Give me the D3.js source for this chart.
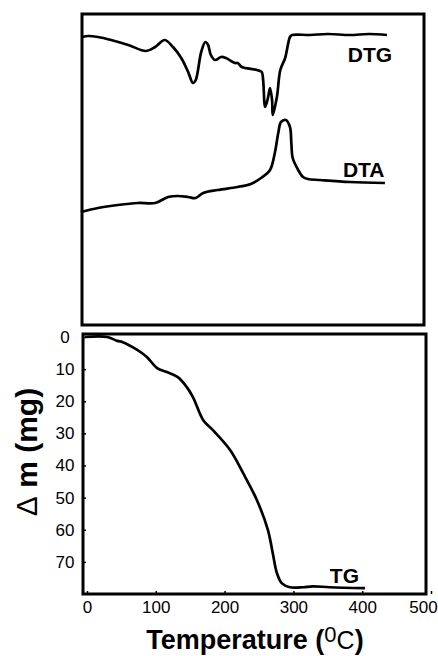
<!DOCTYPE html>
<html>
<head>
<meta charset="utf-8">
<script src="https://cdn.jsdelivr.net/npm/d3@7.9.0/dist/d3.min.js"></script>
<style>
  body { margin: 0; background: #fff; }
  svg { display: block; font-family: "Liberation Sans", Arial, sans-serif; }
</style>
</head>
<body>
<svg id="chart" width="438" height="656"></svg>
<script>
// temperature (°C) and signal
const dtgTemp = [-7, 2, 16, 35, 60, 86, 99, 113, 125, 137, 147, 154, 158, 166, 172, 176, 180, 186, 195, 202, 215, 219, 225, 247, 254, 256, 259, 263, 266, 269, 270, 276, 281, 288, 295, 298, 324, 350, 382, 410, 436];
const dtgValue = [288, 289, 288, 285, 280, 274, 278, 285, 278, 267, 253, 242, 245, 273, 283, 280, 270, 265, 268, 267, 262, 262, 258, 255, 253, 245, 218, 227, 237, 225, 210, 228, 255, 267, 288, 290, 290, 291, 290, 291, 290];

const dtaTemp = [-9, 16, 45, 74, 99, 118, 132, 147, 158, 169, 190, 219, 238, 253, 266, 273, 278, 282, 289, 295, 297, 299, 307, 314, 321, 339, 382, 433];
const dtaValue = [113, 117, 120, 122, 122, 128, 129, 128, 127, 132, 135, 138, 141, 147, 155, 172, 192, 203, 205, 198, 182, 167, 155, 148, 146, 145, 143, 142];

const tgTemp = [-3, 29, 44, 52, 73, 87, 102, 116, 132, 145, 154, 169, 183, 208, 227, 247, 263, 270, 276, 283, 295, 314, 328, 353, 404];
const tgLoss = [0, 0, 1.2, 1.6, 4.0, 6.2, 9.7, 10.9, 12.5, 15.6, 18.7, 25.9, 29.0, 35.2, 42.4, 50.8, 60.1, 67.3, 73.5, 76.6, 77.9, 77.9, 77.6, 77.9, 78.2];

const xTicks = [0, 100, 200, 300, 400, 500];
const yTicks = [0, 10, 20, 30, 40, 50, 60, 70];

const svg = d3.select('#chart');

const x = d3.scaleLinear().domain([0, 500]).range([87, 431]);
const yTop = d3.scaleLinear().domain([0, 300]).range([325, 25]);
const yTg = d3.scaleLinear().domain([0, 80]).range([337, 594]);

// panel frames
svg.append('rect')
  .attr('x', 82).attr('y', 14).attr('width', 342).attr('height', 311)
  .attr('fill', 'none').attr('stroke', '#000').attr('stroke-width', 3);
svg.append('rect')
  .attr('x', 83).attr('y', 334).attr('width', 343).attr('height', 260)
  .attr('fill', 'none').attr('stroke', '#000').attr('stroke-width', 3);

function drawCurve(temps, vals, yScale) {
  const pts = temps.map((t, i) => [t, vals[i]]);
  svg.append('path')
    .datum(pts)
    .attr('fill', 'none')
    .attr('stroke', '#000')
    .attr('stroke-width', 2.7)
    .attr('stroke-linejoin', 'round')
    .attr('d', d3.line()
      .x(d => x(d[0]))
      .y(d => yScale(d[1]))
      .curve(d3.curveCatmullRom.alpha(0.5)));
}

drawCurve(dtgTemp, dtgValue, yTop);
drawCurve(dtaTemp, dtaValue, yTop);
drawCurve(tgTemp, tgLoss, yTg);

// curve labels
const labels = [
  { text: 'DTG', t: 379, y: yTop(263) },
  { text: 'DTA', t: 372, y: yTop(148) },
  { text: 'TG', t: 353, y: yTg(76.6) }
];
svg.selectAll('text.curve-label')
  .data(labels)
  .join('text')
  .attr('class', 'curve-label')
  .attr('x', d => x(d.t))
  .attr('y', d => d.y)
  .attr('font-size', 21)
  .attr('font-weight', 'bold')
  .text(d => d.text);

// x axis
const xAxis = svg.append('g')
  .attr('transform', 'translate(0,594)')
  .call(d3.axisBottom(x).tickValues(xTicks).tickSize(-3).tickPadding(7));
xAxis.select('.domain').remove();
xAxis.selectAll('line').attr('stroke', '#000').attr('stroke-width', 1.5);
xAxis.selectAll('text')
  .attr('font-size', 17)
  .attr('font-family', '"Liberation Sans", Arial, sans-serif')
  .attr('fill', '#000')
  .attr('dx', d => d === 500 ? -8 : 0);

// y axis (TG panel)
const yAxis = svg.append('g')
  .attr('transform', 'translate(83,0)')
  .call(d3.axisLeft(yTg).tickValues(yTicks).tickSize(-3));
yAxis.select('.domain').remove();
yAxis.selectAll('line').attr('stroke', '#000').attr('stroke-width', 1.5);
yAxis.selectAll('text')
  .attr('x', -18)
  .attr('text-anchor', 'middle')
  .attr('font-size', 17)
  .attr('font-family', '"Liberation Sans", Arial, sans-serif')
  .attr('fill', '#000');

// axis titles
const xTitle = svg.append('text')
  .attr('x', 255).attr('y', 649)
  .attr('text-anchor', 'middle')
  .attr('fill', '#000');
xTitle.append('tspan').attr('font-size', 27).attr('font-weight', 'bold').text('Temperature (');
xTitle.append('tspan').attr('font-size', 22).attr('dy', -7).text('0');
xTitle.append('tspan').attr('font-size', 25).attr('dy', 7).text('C');
xTitle.append('tspan').attr('font-size', 27).attr('font-weight', 'bold').text(')');

const yTitle = svg.append('text')
  .attr('transform', 'translate(37,452) rotate(-90)')
  .attr('text-anchor', 'middle')
  .attr('font-size', 30)
  .attr('fill', '#000');
yTitle.append('tspan').attr('font-weight', 'normal').text('\u0394');
yTitle.append('tspan').attr('font-weight', 'bold').text(' m (mg)');
</script>
</body>
</html>
